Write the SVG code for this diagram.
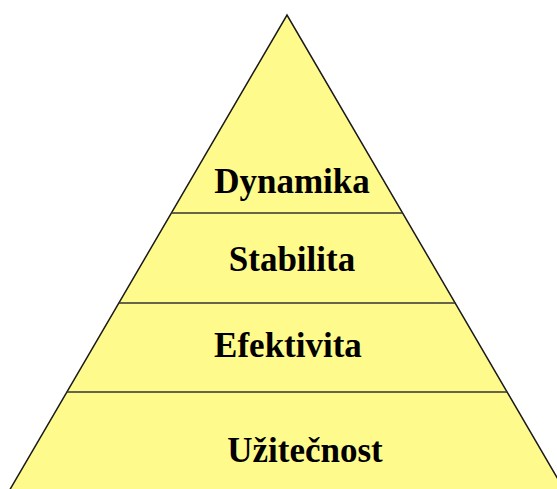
<svg xmlns="http://www.w3.org/2000/svg" width="557" height="489" viewBox="0 0 557 489">
  <style>
    .tier { fill: #FFFA8C; stroke: none; }
    .edge { fill: none; stroke: #1a1a1a; stroke-width: 1.5; }
    .divider { stroke: #333; stroke-width: 1.5; }
    .label { font-family: "Liberation Serif", "Times New Roman", serif; font-weight: bold; font-size: 35px; fill: #000; text-anchor: middle; }
  </style>
  <rect width="557" height="489" fill="#fff"/>
  <!-- pyramid body, base runs below the canvas -->
  <polygon class="tier" points="287,15 -2,510 576,510"/>
  <g id="connectors">
    <polyline class="edge" points="-2,510 287,15 576,510"/>
    <line class="divider" x1="171.4" y1="213" x2="402.6" y2="213"/>
    <line class="divider" x1="118.8" y1="303" x2="455.2" y2="303"/>
    <line class="divider" x1="66.8" y1="392" x2="507.2" y2="392"/>
  </g>
  <g id="dynamika"><text class="label" x="292" y="193">Dynamika</text></g>
  <g id="stabilita"><text class="label" x="292" y="271">Stabilita</text></g>
  <g id="efektivita"><text class="label" x="288" y="357">Efektivita</text></g>
  <g id="uzitecnost"><text class="label" x="305" y="462">Užitečnost</text></g>
</svg>
